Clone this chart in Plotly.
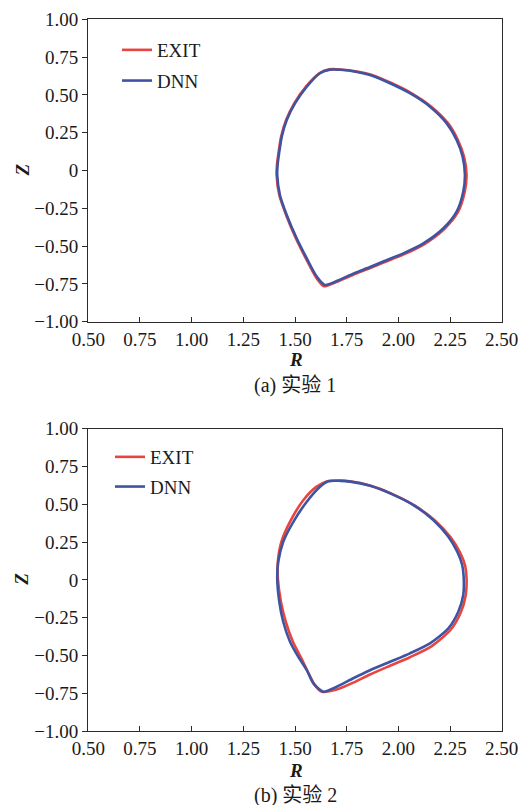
import plotly.graph_objects as go

# ---------------- data ----------------
r_tickvals = [0.5, 0.75, 1.0, 1.25, 1.5, 1.75, 2.0, 2.25, 2.5]
r_ticktext = ["0.50", "0.75", "1.00", "1.25", "1.50", "1.75", "2.00", "2.25", "2.50"]
z_tickvals = [1.0, 0.75, 0.5, 0.25, 0.0, -0.25, -0.5, -0.75, -1.0]
z_ticktext = ["1.00", "0.75", "0.50", "0.25", "0", "\u22120.25", "\u22120.50", "\u22120.75", "\u22121.00"]

# Experiment 1
dnn1_R = [1.669, 1.72, 1.80, 1.863, 1.960, 2.056, 2.153, 2.234, 2.282, 2.311, 2.322, 2.314,
          2.282, 2.218, 2.121, 2.024, 1.927, 1.863, 1.782, 1.702, 1.645, 1.605, 1.557, 1.508,
          1.460, 1.427, 1.414, 1.416, 1.423, 1.436, 1.460, 1.500, 1.557, 1.621, 1.669]
dnn1_Z = [0.667, 0.666, 0.652, 0.632, 0.577, 0.511, 0.422, 0.312, 0.202, 0.091, -0.030, -0.140,
          -0.272, -0.382, -0.482, -0.548, -0.602, -0.638, -0.682, -0.731, -0.757, -0.701, -0.581, -0.448,
          -0.294, -0.162, -0.030, 0.040, 0.114, 0.224, 0.334, 0.444, 0.554, 0.643, 0.667]
exit1_R = [1.667, 1.72, 1.80, 1.865, 1.963, 2.060, 2.158, 2.240, 2.288, 2.318, 2.330, 2.321,
           2.288, 2.222, 2.124, 2.026, 1.928, 1.864, 1.782, 1.700, 1.640, 1.601, 1.553, 1.504,
           1.457, 1.424, 1.411, 1.413, 1.420, 1.433, 1.457, 1.497, 1.554, 1.619, 1.667]
exit1_Z = [0.669, 0.668, 0.655, 0.635, 0.580, 0.514, 0.424, 0.313, 0.202, 0.091, -0.030, -0.142,
           -0.276, -0.387, -0.488, -0.555, -0.609, -0.645, -0.689, -0.737, -0.765, -0.705, -0.583, -0.448,
           -0.294, -0.162, -0.030, 0.040, 0.114, 0.224, 0.334, 0.446, 0.557, 0.645, 0.669]

# Experiment 2
dnn2_R = [1.661, 1.72, 1.766, 1.863, 1.960, 2.073, 2.169, 2.242, 2.285, 2.309, 2.316, 2.314,
          2.290, 2.242, 2.153, 2.056, 1.960, 1.863, 1.782, 1.702, 1.637, 1.589, 1.557, 1.516,
          1.476, 1.443, 1.424, 1.414, 1.419, 1.443, 1.492, 1.557, 1.621, 1.661]
dnn2_Z = [0.653, 0.655, 0.650, 0.622, 0.572, 0.495, 0.396, 0.285, 0.186, 0.098, 0.020, -0.100,
          -0.211, -0.321, -0.420, -0.486, -0.542, -0.598, -0.651, -0.707, -0.740, -0.685, -0.597, -0.509,
          -0.409, -0.277, -0.145, 0.010, 0.120, 0.252, 0.384, 0.517, 0.616, 0.653]
exit2_R = [1.653, 1.72, 1.766, 1.863, 1.962, 2.078, 2.178, 2.254, 2.298, 2.323, 2.330, 2.326,
           2.302, 2.252, 2.160, 2.056, 1.960, 1.863, 1.782, 1.702, 1.630, 1.598, 1.570, 1.531,
           1.490, 1.456, 1.432, 1.417, 1.417, 1.434, 1.478, 1.540, 1.603, 1.653]
exit2_Z = [0.651, 0.657, 0.652, 0.624, 0.574, 0.492, 0.392, 0.280, 0.182, 0.095, 0.010, -0.102,
           -0.216, -0.332, -0.440, -0.512, -0.568, -0.626, -0.680, -0.726, -0.740, -0.700, -0.630, -0.520,
           -0.410, -0.280, -0.145, 0.010, 0.120, 0.252, 0.390, 0.527, 0.615, 0.651]

series_names = ["EXIT", "DNN"]
captions = ["(a) \u5b9e\u9a8c 1", "(b) \u5b9e\u9a8c 2"]

# ---------------- styling ----------------
W, H = 526, 805
RED = "#e8453f"
BLUE = "#3e54a3"
SERIF = "Liberation Serif, Times New Roman, Noto Sans CJK SC, serif"
FS = 19
AX = "#2b2b2b"
TXT = "#1a1a1a"

def px_x(p):
    return p / W

def px_y(p):
    return 1 - p / H

x_dom = [px_x(88.3), px_x(501.7)]
y1_dom = [px_y(321.7), px_y(19.3)]
y2_dom = [px_y(731.0), px_y(428.7)]

fig = go.Figure()

for (er, ez, dr, dz, xa, ya, lg) in [
    (exit1_R, exit1_Z, dnn1_R, dnn1_Z, "x", "y", "legend"),
    (exit2_R, exit2_Z, dnn2_R, dnn2_Z, "x2", "y2", "legend2"),
]:
    fig.add_trace(go.Scatter(x=er, y=ez, mode="lines", name=series_names[0],
                             legendgroup=lg + "a",
                             line=dict(color=RED, width=2.6, shape="spline", smoothing=0.7),
                             xaxis=xa, yaxis=ya, legend=lg))
    fig.add_trace(go.Scatter(x=dr, y=dz, mode="lines", name=series_names[1],
                             legendgroup=lg + "b",
                             line=dict(color=BLUE, width=2.6, shape="spline", smoothing=0.7),
                             xaxis=xa, yaxis=ya, legend=lg))

def xaxis(anchor, dom):
    return dict(domain=dom, anchor=anchor, range=[0.5, 2.5], tickmode="array",
                tickvals=r_tickvals, ticktext=r_ticktext, ticks="inside", ticklen=5,
                tickwidth=1.2, tickcolor=AX, showline=True, linecolor=AX, linewidth=1.4,
                mirror=True, showgrid=False, zeroline=False, automargin=False,
                tickfont=dict(family=SERIF, size=FS, color=TXT))

def yaxis(anchor, dom):
    return dict(domain=dom, anchor=anchor, range=[-1, 1], tickmode="array",
                tickvals=z_tickvals, ticktext=z_ticktext, ticks="outside", ticklen=5,
                tickwidth=1.2, tickcolor=AX, showline=True, linecolor=AX, linewidth=1.4,
                mirror=True, showgrid=False, zeroline=False, automargin=False,
                tickfont=dict(family=SERIF, size=FS, color=TXT))

def legend_cfg(x, y, gap):
    return dict(x=px_x(x), y=px_y(y), font=dict(family=SERIF, size=FS, color=TXT),
                bgcolor="rgba(0,0,0,0)", xanchor="left", yanchor="top", itemwidth=30,
                tracegroupgap=gap, traceorder="grouped")

annotations = []
for yc, cap in [(385, captions[0]), (795, captions[1])]:
    annotations.append(dict(text=cap, x=px_x(295), y=px_y(yc), xref="paper", yref="paper",
                            showarrow=False, xanchor="center", yanchor="middle",
                            font=dict(family=SERIF, size=20, color=TXT)))
for yc in [360, 770]:
    annotations.append(dict(text="<b><i>R</i></b>", x=px_x(296), y=px_y(yc), xref="paper", yref="paper",
                            showarrow=False, xanchor="center", yanchor="middle",
                            font=dict(family=SERIF, size=FS, color=TXT)))
for yc in [170.5, 579.8]:
    annotations.append(dict(text="<b><i>Z</i></b>", x=px_x(22), y=px_y(yc), xref="paper", yref="paper",
                            showarrow=False, xanchor="center", yanchor="middle", textangle=-90,
                            font=dict(family=SERIF, size=FS, color=TXT)))

fig.update_layout(
    width=W, height=H,
    margin=dict(l=0, r=0, t=0, b=0),
    paper_bgcolor="white", plot_bgcolor="white",
    xaxis=xaxis("y", x_dom), yaxis=yaxis("x", y1_dom),
    xaxis2=xaxis("y2", x_dom), yaxis2=yaxis("x2", y2_dom),
    legend=legend_cfg(117, 31, 3),
    legend2=legend_cfg(110, 438, 2),
    annotations=annotations,
    showlegend=True,
)

fig.write_html("out.html", config={"displayModeBar": False},
               post_script="document.body.style.margin='0';")
